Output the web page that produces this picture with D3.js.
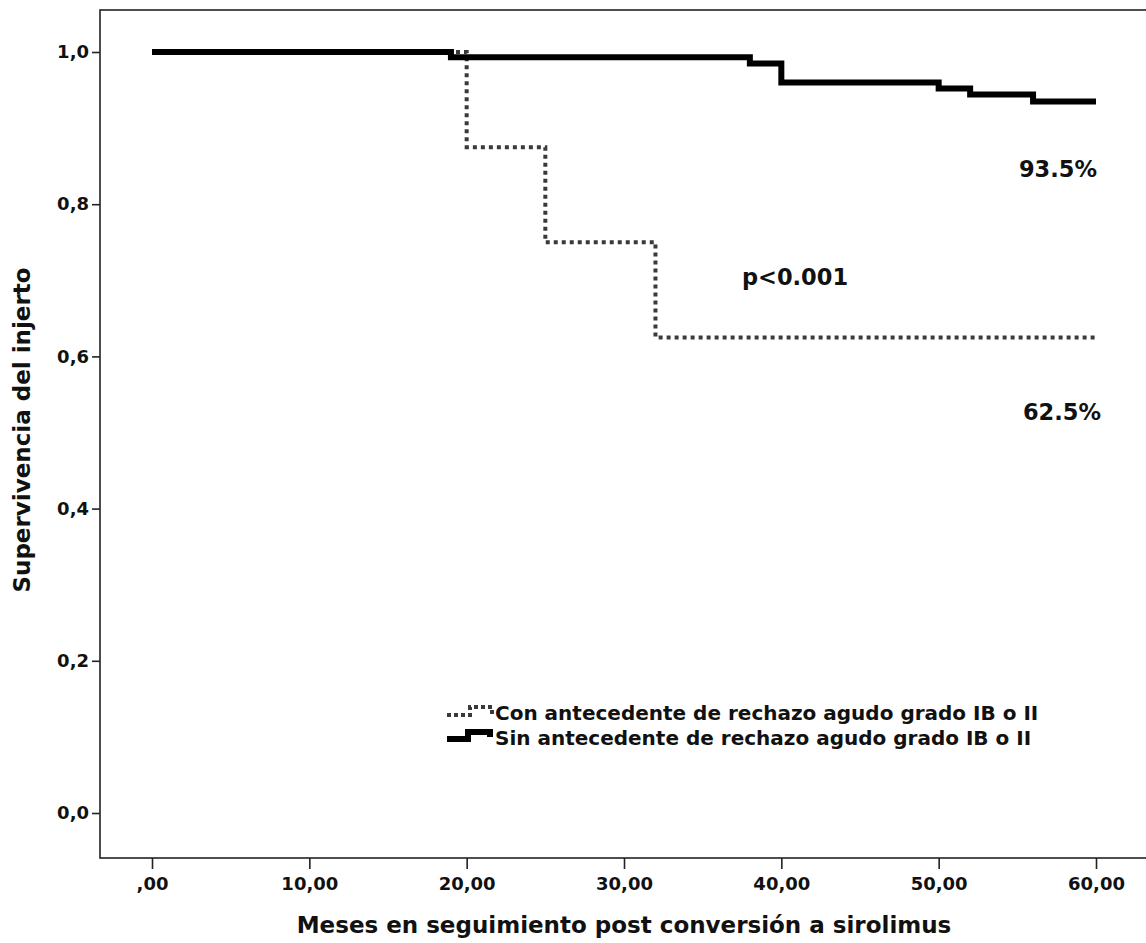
<!DOCTYPE html>
<html lang="es">
<head>
<meta charset="utf-8">
<title>Supervivencia del injerto</title>
<script src="https://cdn.jsdelivr.net/npm/d3@7"></script>
<style>
  body { margin: 0; background: #fff; }
  svg text { font-family: "DejaVu Sans", sans-serif; font-weight: bold; fill: #111; }
</style>
</head>
<body>
<script>
// Kaplan-Meier steps
var conMeses = [0, 20.0, 25.0, 32.0, 60.0];
var conSurv  = [1.0, 0.875, 0.75, 0.625, 0.625];

var sinMeses = [0, 19.0, 38.0, 40.0, 50.0, 52.0, 56.0, 60.0];
var sinSurv  = [1.0, 0.993, 0.985, 0.960, 0.952, 0.944, 0.935, 0.935];

var xTicks = [0, 10, 20, 30, 40, 50, 60];
var xTickLabels = [",00", "10,00", "20,00", "30,00", "40,00", "50,00", "60,00"];
var yTicks = [0, 0.2, 0.4, 0.6, 0.8, 1.0];
var yTickLabels = ["0,0", "0,2", "0,4", "0,6", "0,8", "1,0"];

var legendLabels = [
  "Con antecedente de rechazo agudo grado IB o II",
  "Sin antecedente de rechazo agudo grado IB o II"
];

var w = 1146, h = 943;
// plot frame (right side runs past the window edge)
var fLeft = 100, fTop = 10, fBottom = 858, fRight = 1160;

var x = d3.scaleLinear().domain([0, 60]).range([152, 1096]);
var y = d3.scaleLinear().domain([0, 1]).range([813, 52]);

var svg = d3.select("body").append("svg")
  .attr("width", w)
  .attr("height", h);

// frame
svg.append("rect")
  .attr("x", fLeft).attr("y", fTop)
  .attr("width", fRight - fLeft).attr("height", fBottom - fTop)
  .attr("fill", "none")
  .attr("stroke", "#222")
  .attr("stroke-width", 1.6);

// axes
var xAxis = d3.axisBottom(x)
  .tickValues(xTicks)
  .tickSize(11)
  .tickPadding(5)
  .tickFormat(function(d, i) { return xTickLabels[i]; });

var gx = svg.append("g")
  .attr("transform", "translate(0," + fBottom + ")")
  .call(xAxis);
gx.select(".domain").remove();
gx.selectAll("line").attr("stroke", "#222").attr("stroke-width", 1.6);
gx.selectAll("text").style("font-size", "18px").attr("dy", "0.9em");

var yAxis = d3.axisLeft(y)
  .tickValues(yTicks)
  .tickSize(8)
  .tickPadding(3)
  .tickFormat(function(d, i) { return yTickLabels[i]; });

var gy = svg.append("g")
  .attr("transform", "translate(" + fLeft + ",0)")
  .call(yAxis);
gy.select(".domain").remove();
gy.selectAll("line").attr("stroke", "#222").attr("stroke-width", 1.6);
gy.selectAll("text").style("font-size", "18px");

// axis titles
svg.append("text")
  .attr("x", 624).attr("y", 933)
  .attr("text-anchor", "middle")
  .style("font-size", "23px")
  .text("Meses en seguimiento post conversión a sirolimus");

svg.append("text")
  .attr("transform", "translate(30,430) rotate(-90)")
  .attr("text-anchor", "middle")
  .style("font-size", "23px")
  .text("Supervivencia del injerto");

// curves
var line = d3.line()
  .curve(d3.curveStepAfter)
  .x(function(d) { return x(d[0]); })
  .y(function(d) { return y(d[1]); });

svg.append("path")
  .datum(d3.zip(conMeses, conSurv))
  .attr("d", line)
  .attr("fill", "none")
  .attr("stroke", "#3a3a3a")
  .attr("stroke-width", 4)
  .attr("stroke-dasharray", "4,4");

svg.append("path")
  .datum(d3.zip(sinMeses, sinSurv))
  .attr("d", line)
  .attr("fill", "none")
  .attr("stroke", "#000")
  .attr("stroke-width", 6);

// annotations
svg.append("text").attr("x", 1058).attr("y", 177)
  .attr("text-anchor", "middle").style("font-size", "22.5px").text("93.5%");
svg.append("text").attr("x", 795).attr("y", 285)
  .attr("text-anchor", "middle").style("font-size", "22.5px").text("p<0.001");
svg.append("text").attr("x", 1062).attr("y", 420)
  .attr("text-anchor", "middle").style("font-size", "22.5px").text("62.5%");

// legend
var legend = svg.append("g");
var legY = [713, 738];

legend.append("path")
  .attr("d", "M447," + (legY[0] + 2) + "H470V" + (legY[0] - 6) + "H492V" + (legY[0] + 2))
  .attr("fill", "none").attr("stroke", "#3a3a3a")
  .attr("stroke-width", 4).attr("stroke-dasharray", "4,3");

legend.append("path")
  .attr("d", "M447," + (legY[1] + 1) + "H468V" + (legY[1] - 6) + "H490V" + (legY[1] - 1))
  .attr("fill", "none").attr("stroke", "#000")
  .attr("stroke-width", 6);

legend.selectAll("text.leg")
  .data(legendLabels)
  .enter().append("text")
  .attr("class", "leg")
  .attr("x", 495)
  .attr("y", function(d, i) { return legY[i] + 7; })
  .style("font-size", "20px")
  .text(function(d) { return d; });
</script>
</body>
</html>
